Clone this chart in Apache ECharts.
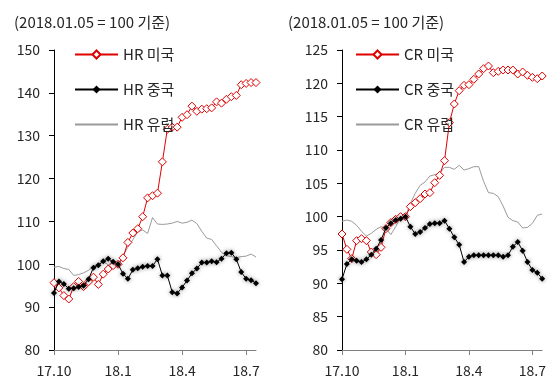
<!DOCTYPE html>
<html>
<head>
<meta charset="utf-8">
<script src="https://cdn.jsdelivr.net/npm/echarts@6/dist/echarts.min.js"></script>
<style>
  html, body { margin: 0; padding: 0; background: #fff; }
  #chart { width: 549px; height: 381px; }
</style>
</head>
<body>
<div id="chart"></div>
<script>
// Weekly observation dates (Fridays)
const weeks = [
  '2017-10-06','2017-10-13','2017-10-20','2017-10-27','2017-11-03','2017-11-10','2017-11-17',
  '2017-11-24','2017-12-01','2017-12-08','2017-12-15','2017-12-22','2017-12-29','2018-01-05',
  '2018-01-12','2018-01-19','2018-01-26','2018-02-02','2018-02-09','2018-02-16','2018-02-23',
  '2018-03-02','2018-03-09','2018-03-16','2018-03-23','2018-03-30','2018-04-06','2018-04-13',
  '2018-04-20','2018-04-27','2018-05-04','2018-05-11','2018-05-18','2018-05-25','2018-06-01',
  '2018-06-08','2018-06-15','2018-06-22','2018-06-29','2018-07-06','2018-07-13','2018-07-20'
];
// Week indexes that carry an axis label / tick
const labelWeeks = [0, 13, 26, 39];

const titleText = '(2018.01.05 = 100 기준)';

// Hot-rolled (HR) price index
const hrUS = [95.7, 94.5, 92.7, 91.9, 94.8, 96.0, 94.8, 95.9, 97.0, 95.3, 97.7, 98.9, 99.7, 100.0,
  101.5, 105.1, 107.3, 108.3, 111.1, 115.5, 116.0, 116.6, 123.9, 131.5, 132.0, 132.0, 134.3, 134.9,
  136.9, 135.7, 136.2, 136.3, 136.5, 137.9, 137.6, 138.5, 139.1, 139.4, 141.9, 142.2, 142.4, 142.4];
const hrCN = [93.3, 96.0, 95.4, 94.3, 94.4, 94.7, 95.0, 96.5, 99.2, 99.8, 100.7, 101.3, 100.6, 100.0,
  97.8, 96.6, 98.7, 99.1, 99.4, 99.6, 99.6, 101.2, 97.4, 97.4, 93.5, 93.2, 94.6, 96.2,
  97.9, 99.0, 100.4, 100.4, 100.7, 100.5, 101.3, 102.6, 102.7, 101.2, 98.2, 96.6, 96.3, 95.6];
const hrEU = [99.3, 99.5, 99.0, 98.8, 97.4, 97.6, 98.0, 98.6, 99.5, 100.1, 100.6, 99.9, 100.5, 100.0,
  102.0, 104.0, 105.7, 107.6, 108.0, 107.2, 110.9, 109.4, 109.3, 109.4, 109.6, 110.0, 109.6, 109.8,
  110.3, 109.5, 107.7, 106.1, 105.8, 104.3, 102.8, 102.0, 101.8, 101.5, 101.8, 101.9, 102.4, 101.7];

// Cold-rolled (CR) price index
const crUS = [97.4, 95.1, 93.7, 96.4, 96.7, 96.4, 94.7, 94.3, 95.4, 98.2, 99.1, 99.6, 100.0, 100.0,
  101.5, 102.1, 102.7, 103.4, 103.6, 105.1, 106.2, 108.4, 114.1, 116.9, 118.9, 119.7, 119.8, 120.6,
  121.4, 122.2, 122.6, 121.6, 121.8, 122.0, 122.0, 122.0, 121.4, 121.7, 121.2, 120.9, 120.7, 121.1];
const crCN = [90.6, 92.9, 93.6, 93.4, 93.2, 93.6, 94.3, 95.2, 96.5, 98.3, 99.0, 99.5, 99.7, 100.0,
  98.5, 97.4, 97.7, 98.3, 98.9, 99.0, 99.0, 99.4, 98.2, 96.9, 95.8, 93.2, 94.0, 94.2,
  94.2, 94.2, 94.2, 94.2, 94.2, 94.0, 94.2, 95.5, 96.2, 94.9, 93.2, 92.0, 91.6, 90.7];
const crEU = [99.3, 99.5, 99.3, 98.7, 97.8, 97.1, 97.5, 98.1, 98.5, 98.2, 97.3, 98.5, 99.9, 100.0,
  102.0, 103.5, 104.7, 105.2, 106.1, 106.3, 106.5, 107.4, 107.4, 107.1, 107.7, 107.0, 107.2, 107.5,
  107.5, 105.3, 103.6, 103.5, 103.0, 101.6, 99.9, 99.4, 99.2, 98.3, 98.4, 99.0, 100.2, 100.4];

const FONT = '"Noto Sans CJK KR", "Noto Sans", sans-serif';
const TXT = '#262626';
const RED = '#e00000';

function weekLabel(value) {
  const [y, m] = value.split('-');
  return y.slice(2) + '.' + Number(m);
}

function xAxisFor(gridIndex) {
  const pick = (idx) => labelWeeks.indexOf(idx) >= 0;
  return {
    type: 'category', gridIndex, data: weeks, boundaryGap: false,
    axisLine: { lineStyle: { color: '#808080', width: 1 } },
    axisTick: { show: true, interval: pick, length: 5, lineStyle: { color: '#808080' } },
    axisLabel: { interval: pick, formatter: weekLabel, color: TXT, fontSize: 14,
      fontFamily: FONT, margin: 14 },
    splitLine: { show: false }
  };
}

function yAxisFor(gridIndex, min, max, interval) {
  return {
    type: 'value', gridIndex, min, max, interval,
    axisLine: { show: true, lineStyle: { color: '#000', width: 1 } },
    axisTick: { show: true, length: 5, lineStyle: { color: '#000' } },
    axisLabel: { color: TXT, fontSize: 14, fontFamily: FONT, margin: 14 },
    splitLine: { show: false }
  };
}

function usSeries(name, data, idx) {
  return {
    name, type: 'line', data, xAxisIndex: idx, yAxisIndex: idx,
    symbol: 'diamond', symbolSize: 8, showSymbol: true, showAllSymbol: true,
    lineStyle: { color: RED, width: 1 },
    itemStyle: { color: '#fff', borderColor: RED, borderWidth: 1 },
    z: 3
  };
}
function cnSeries(name, data, idx) {
  return {
    name, type: 'line', data, xAxisIndex: idx, yAxisIndex: idx,
    symbol: 'diamond', symbolSize: 6, showSymbol: true, showAllSymbol: true,
    lineStyle: { color: '#000', width: 1 },
    itemStyle: { color: '#000', borderColor: '#000', borderWidth: 0,
      shadowBlur: 4, shadowColor: 'rgba(0,0,0,0.45)' },
    z: 4
  };
}
function euSeries(name, data, idx) {
  return {
    name, type: 'line', data, xAxisIndex: idx, yAxisIndex: idx,
    symbol: 'none',
    lineStyle: { color: '#9a9a9a', width: 1 },
    itemStyle: { color: '#9a9a9a' },
    z: 2
  };
}

function legendFor(left, prefix) {
  return {
    left, top: 47, padding: 0, orient: 'vertical', itemWidth: 43, itemHeight: 10, itemGap: 20,
    data: [
      { name: prefix + ' 미국' },
      { name: prefix + ' 중국', itemStyle: { shadowBlur: 0 } },
      { name: prefix + ' 유럽', itemStyle: { opacity: 0 } }
    ],
    textStyle: { color: TXT, fontSize: 15, fontFamily: FONT },
    selectedMode: false
  };
}

const titleStyle = { fontSize: 15, fontWeight: 'normal', color: TXT, fontFamily: FONT };

const chart = echarts.init(document.getElementById('chart'), null, { renderer: 'canvas' });
chart.setOption({
  animation: false,
  backgroundColor: '#fff',
  title: [
    { text: titleText, left: 14, top: 15, padding: 0, textStyle: titleStyle },
    { text: titleText, left: 288, top: 15, padding: 0, textStyle: titleStyle }
  ],
  legend: [legendFor(74, 'HR'), legendFor(355, 'CR')],
  grid: [
    { left: 54, top: 50, width: 202, height: 300 },
    { left: 342, top: 50, width: 203, height: 300 }
  ],
  xAxis: [xAxisFor(0), xAxisFor(1)],
  yAxis: [yAxisFor(0, 80, 150, 10), yAxisFor(1, 80, 125, 5)],
  series: [
    usSeries('HR 미국', hrUS, 0), cnSeries('HR 중국', hrCN, 0), euSeries('HR 유럽', hrEU, 0),
    usSeries('CR 미국', crUS, 1), cnSeries('CR 중국', crCN, 1), euSeries('CR 유럽', crEU, 1)
  ]
});
</script>
</body>
</html>
